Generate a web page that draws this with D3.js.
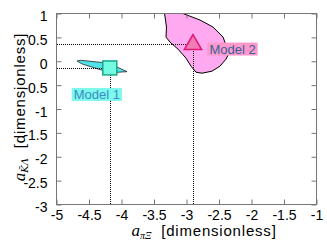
<!DOCTYPE html>
<html lang="en">
<head>
    <meta charset="UTF-8">
    <title>Scattering lengths</title>
    <style>
        body { margin: 0; background: #fff; }
        text { font-family: "Liberation Sans", Arial, sans-serif; }
        .dots { stroke: #000; stroke-width: 1px; stroke-dasharray: 1,1; fill: none; shape-rendering: crispEdges; }
    </style>
</head>
<body>
<script src="https://cdn.jsdelivr.net/npm/d3@7"></script>
<script>

    const width = 327;
    const height = 242;

    // axis ticks
    const xTicks = [-5, -4.5, -4, -3.5, -3, -2.5, -2, -1.5, -1];
    const yTicks = [1, 0.5, 0, -0.5, -1, -1.5, -2, -2.5, -3];

    // allowed regions (a_piXi, a_KLambda)
    const region1 = [[-4.685, 0.005], [-4.63, 0.02], [-4.269, -0.03], [-4.069, -0.12],
        [-3.915, -0.218], [-4.069, -0.232], [-4.269, -0.2], [-4.60, -0.06]];
    const region2 = [[-3.338, 1.0], [-3.323, 0.863], [-3.308, 0.716], [-3.315, 0.506],
        [-3.254, 0.401], [-3.131, 0.254], [-3.008, 0.065], [-2.931, -0.103],
        [-2.854, -0.229], [-2.762, -0.25], [-2.608, -0.208], [-2.485, -0.103],
        [-2.392, 0.044], [-2.346, 0.17], [-2.392, 0.338], [-2.438, 0.506],
        [-2.592, 0.716], [-2.792, 0.863], [-3.054, 1.0]];

    // best-fit points
    const models = ['Model 1', 'Model 2'];
    const modelX = [-4.18, -2.9];
    const modelY = [-0.14, 0.37];

    const x = d3.scaleLinear().domain([-5, -1]).range([56.5, 316.5]);
    const y = d3.scaleLinear().domain([-3, 1]).range([204.5, 13.5]);

    let svg = d3.select('body').append('svg')
        .attr('width', width)
        .attr('height', height);

    svg.append('clipPath').attr('id', 'clip')
        .append('rect')
        .attr('x', x(-5)).attr('y', y(1))
        .attr('width', x(-1) - x(-5)).attr('height', y(-3) - y(1));

    let plot = svg.append('g').attr('clip-path', 'url(#clip)');

    let line = d3.line().x(d => x(d[0])).y(d => y(d[1])).curve(d3.curveLinearClosed);

    plot.append('path').datum(region2)
        .attr('d', line)
        .attr('fill', '#ffaaf0')
        .attr('stroke', '#000')
        .attr('stroke-width', 1);

    plot.append('path').datum(region1)
        .attr('d', line)
        .attr('fill', '#52e2ea')
        .attr('stroke', '#222')
        .attr('stroke-width', 0.8);

    // dotted guide lines
    models.forEach(function (m, i) {
        let px = Math.round(x(modelX[i])) + 0.5;
        let py = Math.round(y(modelY[i])) + 0.5;
        plot.append('line').attr('class', 'dots')
            .attr('x1', x(-5)).attr('x2', px)
            .attr('y1', py).attr('y2', py);
        plot.append('line').attr('class', 'dots')
            .attr('x1', px).attr('x2', px)
            .attr('y1', py).attr('y2', y(-3));
    });

    // frame and ticks
    let axisColor = '#777';
    svg.append('rect')
        .attr('x', x(-5)).attr('y', y(1))
        .attr('width', x(-1) - x(-5)).attr('height', y(-3) - y(1))
        .attr('fill', 'none').attr('stroke', axisColor).attr('stroke-width', 1);

    let fmt = d => String(d);
    let axes = [
        d3.axisBottom(x).tickValues(xTicks).tickSizeInner(-5).tickSizeOuter(0).tickPadding(6).tickFormat(fmt),
        d3.axisTop(x).tickValues(xTicks).tickSizeInner(-5).tickSizeOuter(0).tickFormat(''),
        d3.axisLeft(y).tickValues(yTicks).tickSizeInner(-5).tickSizeOuter(0).tickPadding(9).tickFormat(fmt),
        d3.axisRight(y).tickValues(yTicks).tickSizeInner(-5).tickSizeOuter(0).tickFormat('')
    ];
    let shifts = [[0, y(-3)], [0, y(1)], [x(-5), 0], [x(-1), 0]];
    axes.forEach(function (a, i) {
        let g = svg.append('g')
            .attr('transform', 'translate(' + shifts[i][0] + ',' + shifts[i][1] + ')')
            .call(a);
        g.select('.domain').remove();
        g.selectAll('.tick line').attr('stroke', axisColor);
        g.selectAll('.tick text')
            .attr('fill', '#000')
            .style('font-size', '14px')
            .style('font-family', '"Liberation Sans", Arial, sans-serif');
        if (i === 2) g.selectAll('.tick text').attr('dy', '0.5em');
    });

    // markers
    svg.append('rect')
        .attr('x', x(modelX[0]) - 7).attr('y', y(modelY[0]) - 7)
        .attr('width', 14).attr('height', 14)
        .attr('fill', '#74fce0').attr('stroke', '#1aa88a').attr('stroke-width', 1.5);

    let tri = d3.symbol().type(d3.symbolTriangle).size(130);
    svg.append('path')
        .attr('d', tri())
        .attr('transform', 'translate(' + x(modelX[1]) + ',' + (y(modelY[1]) + 1) + ')')
        .attr('fill', '#f47cb4').attr('stroke', '#e0187a').attr('stroke-width', 1.5);

    // model labels
    let labelBg = ['#7ef8ec', '#ff99cc'];
    let labelFg = ['#3a8cc4', '#36609a'];
    let labelPos = [[x(modelX[0]) - 13, y(modelY[0]) + 26.5], [x(modelX[1]) + 39.5, y(modelY[1]) + 5.5]];
    models.forEach(function (m, i) {
        let g = svg.append('g');
        let bg = g.append('rect');
        let t = g.append('text')
            .attr('x', labelPos[i][0]).attr('y', labelPos[i][1] + 5)
            .attr('text-anchor', 'middle')
            .style('font-size', '13px')
            .attr('fill', labelFg[i])
            .text(m);
        let b = t.node().getBBox();
        bg.attr('x', b.x - 2).attr('y', labelPos[i][1] - 6.5)
            .attr('width', b.width + 4).attr('height', 13)
            .attr('fill', labelBg[i]);
    });

    // axis titles
    function title(sel, sub, subFont) {
        sel.append('tspan').text('a')
            .style('font-family', '"Liberation Serif", serif').style('font-style', 'italic')
            .style('font-size', '17px').style('letter-spacing', '0');
        sel.append('tspan').text(sub).attr('dy', 3)
            .style('font-family', subFont).style('font-style', 'italic')
            .style('font-size', '10px').style('letter-spacing', '0');
        sel.append('tspan').text('\u00a0\u00a0[dimensionless]').attr('dy', -3)
            .style('font-size', '15px').style('letter-spacing', '0.8px');
    }

    let xt = svg.append('text')
        .attr('x', 204).attr('y', 236)
        .attr('text-anchor', 'middle');
    title(xt, '\u03c0\u039e', '"Liberation Serif", serif');

    let yt = svg.append('text')
        .attr('transform', 'translate(25,107) rotate(-90)')
        .attr('text-anchor', 'middle');
    title(yt, 'K\u0304\u039b', '"DejaVu Serif", serif');

</script>
</body>
</html>
